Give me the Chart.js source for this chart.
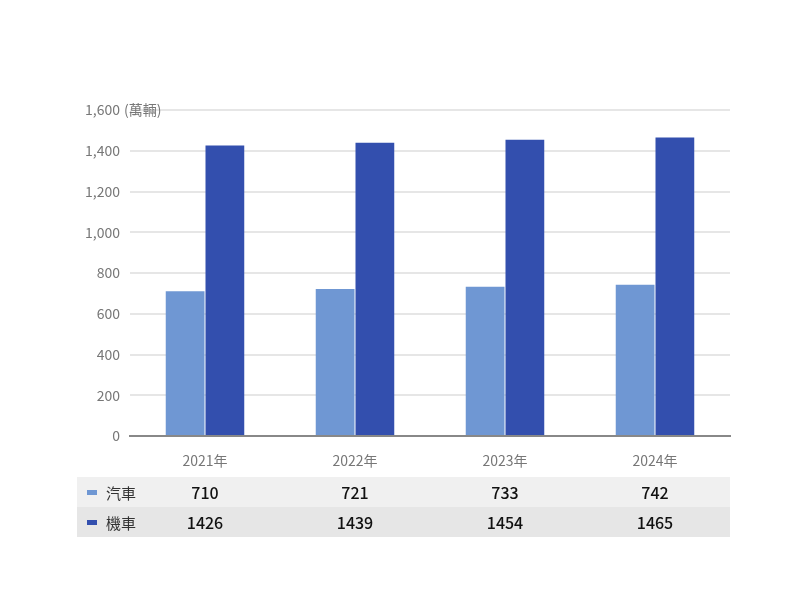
<!DOCTYPE html>
<html>
<head>
<meta charset="utf-8">
<script src="https://cdn.jsdelivr.net/npm/chart.js@4"></script>
<style>body{margin:0;background:#fff}#wrap{width:800px;height:600px}</style>
</head>
<body>
<div id="wrap"><canvas id="graph" width="800" height="600"></canvas></div>
<script>
var years = ['2021年', '2022年', '2023年', '2024年'];
var carValues = [710, 721, 733, 742];
var motoValues = [1426, 1439, 1454, 1465];
var seriesNames = ['汽車', '機車'];
var seriesColors = ['#6f97d3', '#334fae'];
var fontFamily = '"Noto Sans CJK TC", "Noto Sans", sans-serif';

// draws the unit label and the data table under the axis
var tablePlugin = {
  id: 'table',
  afterDraw: function (chart) {
    var ctx = chart.ctx;
    var x = chart.scales.x, y = chart.scales.y;
    ctx.save();
    ctx.font = '14px ' + fontFamily;
    ctx.fillStyle = '#777';
    ctx.textBaseline = 'middle';
    ctx.textAlign = 'left';
    ctx.fillText('(萬輛)', chart.chartArea.left - 6, y.getPixelForValue(1600));

    var rows = [carValues, motoValues];
    var bgs = ['#f0f0f0', '#e6e6e6'];
    for (var r = 0; r < rows.length; r++) {
      var top = 477 + r * 30;
      ctx.fillStyle = bgs[r];
      ctx.fillRect(77, top, 653, 30);
      ctx.fillStyle = seriesColors[r];
      ctx.fillRect(87, top + 13, 10, 5);
      ctx.fillStyle = '#333';
      ctx.textAlign = 'left';
      ctx.font = '15px ' + fontFamily;
      ctx.fillText(seriesNames[r], 106, top + 16);
      ctx.fillStyle = '#111';
      ctx.textAlign = 'center';
      ctx.font = '500 16px ' + fontFamily;
      for (var i = 0; i < rows[r].length; i++) {
        ctx.fillText(String(rows[r][i]), x.getPixelForValue(i), top + 16);
      }
    }
    ctx.restore();
  }
};

new Chart(document.getElementById('graph').getContext('2d'), {
  type: 'bar',
  data: {
    labels: years,
    datasets: [
      { label: seriesNames[0], data: carValues, backgroundColor: seriesColors[0] },
      { label: seriesNames[1], data: motoValues, backgroundColor: seriesColors[1] }
    ]
  },
  options: {
    responsive: false,
    animation: false,
    layout: { padding: { left: 70, right: 70, top: 110, bottom: 124 } },
    datasets: { bar: { categoryPercentage: 0.53, barPercentage: 0.975 } },
    plugins: { legend: { display: false }, tooltip: { enabled: false } },
    scales: {
      x: {
        grid: { display: false },
        border: { color: '#888', width: 2 },
        ticks: { color: '#777', font: { size: 14, family: fontFamily }, padding: 8 },
        afterFit: function (s) { s.height = 40; }
      },
      y: {
        min: 0, max: 1600,
        grid: { color: '#e6e6e6', lineWidth: 2, drawTicks: false },
        border: { display: false },
        ticks: { stepSize: 200, color: '#777', padding: 10, font: { size: 14, family: fontFamily } },
        afterFit: function (s) { s.width = 60; }
      }
    }
  },
  plugins: [tablePlugin]
});
</script>
</body>
</html>
